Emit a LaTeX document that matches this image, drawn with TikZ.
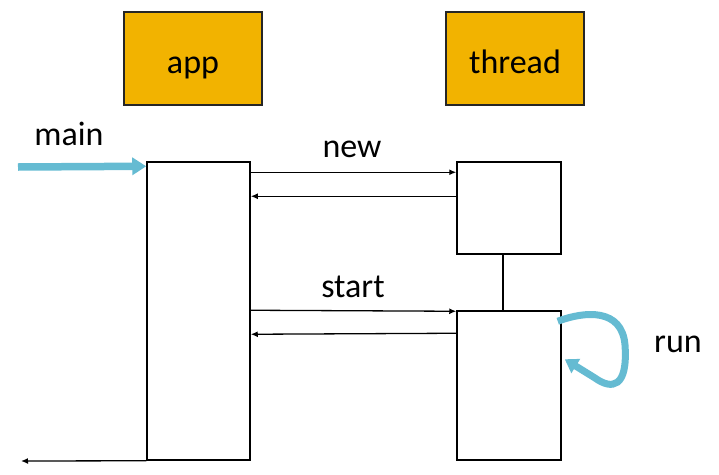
\documentclass[tikz,border=0pt]{standalone}
\usepackage{fontspec}
\setmainfont{Carlito}
\usetikzlibrary{arrows.meta,calc}
\definecolor{headorange}{HTML}{F2B300}
\definecolor{flowblue}{HTML}{65BBD2}
\tikzset{
	headbox/.style={draw=black!85, line width=1.4pt, fill=headorange, minimum width=138pt, minimum height=93pt, inner sep=0pt, text height=36pt, text depth=7pt},
	actbox/.style={draw=black, line width=1.5pt, fill=white, inner sep=0pt},
	msg/.style={draw=black, line width=1.3pt, -{Latex[length=7pt,width=6pt]}},
	flow/.style={draw=flowblue, line width=7.5pt, -{Triangle[length=14pt,width=17pt]}},
	lbl/.style={inner sep=0pt, anchor=base}
}
\begin{document}
\begin{tikzpicture}[x=1pt, y=-1pt, font=\fontsize{34}{40}\selectfont]
	\useasboundingbox (0,0) rectangle (719,474);
	% cabeceras
	\node[headbox] (app) at (193,58.5) {app};
	\node[headbox] (thread) at (515,58.5) {thread};
	% barras de activacion
	\node[actbox, minimum width=103pt, minimum height=298pt] (appact) at (198.5,311) {};
	\node[actbox, minimum width=104pt, minimum height=92pt] (thrnew) at (509,208) {};
	\node[actbox, minimum width=104pt, minimum height=149pt] (thrrun) at (509,385.5) {};
	\draw[line width=1.5pt] ($(thrnew.south)+(-6,0)$) -- ($(thrrun.north)+(-6,0)$);
	% mensajes
	\draw[msg] ($(appact.north east)+(0,11)$) -- ($(thrnew.north west)+(0,11)$);
	\draw[msg] ($(thrnew.north west)+(0,35)$) -- ($(appact.north east)+(0,35)$);
	\draw[msg] ($(appact.north east)+(0,149)$) -- ($(thrrun.north west)+(0,1)$);
	\draw[msg] ($(thrrun.north west)+(0,23)$) -- ($(appact.north east)+(0,173)$);
	\coordinate (exitpt) at (21,461);
	\draw[msg] (appact.south west) -- (exitpt);
	% etiquetas
	\node[lbl] (newlbl) at (352,157) {new};
	\node[lbl] (startlbl) at (353,297) {start};
	\node[lbl] (mainlbl) at (69,145) {main};
	\node[lbl] (runlbl) at (678,352) {run};
	% flechas azules
	\coordinate (mainin) at (18,167);
	\draw[flow] (mainin) -- ($(appact.north west)+(0,5)$);
	\draw[flow, line width=7pt, -{Triangle[length=13pt,width=16pt]}] ($(thrrun.north east)+(-4,11)$)
		.. controls (585,311) and (622,308) .. (625,345)
		.. controls (628,388) and (612,390) .. (595,378)
		-- ($(thrrun.north east)+(3,49)$);
\end{tikzpicture}
\end{document}
